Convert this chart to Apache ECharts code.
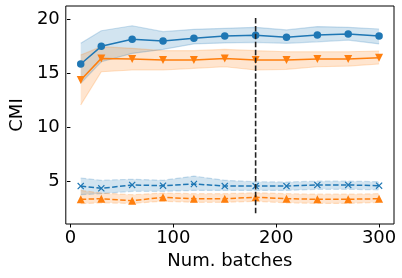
<!DOCTYPE html>
<html>
<head>
<meta charset="utf-8">
<script src="https://cdn.jsdelivr.net/npm/echarts@6/dist/echarts.min.js"></script>
<style>
html,body{margin:0;padding:0;background:#fff;}
#c{width:402px;height:278px;}
</style>
</head>
<body>
<div id="c"></div>
<script>
// ---- data ----
var batches = [10, 30, 60, 90, 120, 150, 180, 210, 240, 270, 300];

var circleMean  = [15.85, 17.48, 18.13, 17.97, 18.22, 18.43, 18.50, 18.31, 18.52, 18.62, 18.43];
var circleUpper = [17.76, 18.92, 19.38, 18.83, 19.05, 19.14, 19.23, 18.99, 19.30, 19.23, 19.08];
var circleLower = [14.07, 16.06, 16.83, 17.20, 17.70, 17.80, 17.85, 17.76, 17.90, 18.06, 17.70];

var downMean  = [14.37, 16.37, 16.31, 16.22, 16.22, 16.37, 16.22, 16.22, 16.31, 16.31, 16.43];
var downUpper = [16.68, 17.45, 17.30, 17.08, 17.08, 17.20, 17.08, 16.98, 16.98, 16.98, 17.05];
var downLower = [12.07, 15.14, 15.30, 15.30, 15.45, 15.60, 15.30, 15.36, 15.60, 15.66, 15.85];

var crossMean  = [4.60, 4.39, 4.70, 4.63, 4.79, 4.60, 4.60, 4.60, 4.70, 4.70, 4.63];
var crossUpper = [5.34, 5.13, 5.22, 5.13, 5.52, 5.13, 5.00, 4.97, 5.05, 5.05, 5.00];
var crossLower = [3.80, 3.90, 4.11, 4.11, 4.20, 4.20, 4.20, 4.20, 4.30, 4.30, 4.25];

var upMean  = [3.38, 3.43, 3.25, 3.56, 3.43, 3.43, 3.56, 3.43, 3.38, 3.38, 3.43];
var upUpper = [4.20, 3.95, 3.80, 3.95, 3.90, 3.90, 3.98, 3.90, 3.85, 3.85, 3.90];
var upLower = [2.97, 3.05, 3.00, 3.20, 3.10, 3.10, 3.19, 3.05, 3.00, 3.00, 3.10];

var vlineX = [180, 180];
var vlineY = [2.1, 20.2];

var xTicks = [0, 100, 200, 300];
var yTicks = [5, 10, 15, 20];

// ---- helpers ----
var BLUE = '#1f77b4', ORANGE = '#ff7f0e';
var FONT = 'DejaVu Sans';
var FS = 18;
var DASH = [5.5, 2.4];

function pairs(xs, ys) { return xs.map(function (x, i) { return [x, ys[i]]; }); }

function band(lower, upper, color, dashed) {
  var out = [];
  out.push({
    type: 'custom',
    silent: true,
    clip: true,
    z: 1,
    data: [0],
    renderItem: function (params, api) {
      var pts = [];
      for (var i = 0; i < batches.length; i++) pts.push(api.coord([batches[i], upper[i]]));
      for (var j = batches.length - 1; j >= 0; j--) pts.push(api.coord([batches[j], lower[j]]));
      return { type: 'polygon', shape: { points: pts }, style: { fill: color, opacity: 0.2 } };
    }
  });
  [lower, upper].forEach(function (arr) {
    out.push({
      type: 'line', data: pairs(batches, arr), symbol: 'none', silent: true, z: 1,
      lineStyle: { color: color, width: 1.2, opacity: 0.22, type: dashed ? DASH : 'solid' }
    });
  });
  return out;
}

function mainLine(ys, color, symbol, rotate, size, dashed) {
  return {
    type: 'line', data: pairs(batches, ys), symbol: symbol, symbolSize: size, symbolRotate: rotate,
    showAllSymbol: true, z: 3,
    lineStyle: { color: color, width: 1.5, type: dashed ? DASH : 'solid' },
    itemStyle: { color: color, borderWidth: 0 }
  };
}

var CROSS = 'path://M0,1.2L1.2,0L5,3.8L8.8,0L10,1.2L6.2,5L10,8.8L8.8,10L5,6.2L1.2,10L0,8.8L3.8,5Z';

var series = []
  .concat(band(circleLower, circleUpper, BLUE, false))
  .concat(band(downLower, downUpper, ORANGE, false))
  .concat(band(crossLower, crossUpper, BLUE, true))
  .concat(band(upLower, upUpper, ORANGE, true));
series.push(mainLine(circleMean, BLUE, 'circle', 0, 7.5, false));
series.push(mainLine(downMean, ORANGE, 'triangle', 180, 8, false));
series.push(mainLine(crossMean, BLUE, CROSS, 0, 7, true));
series.push(mainLine(upMean, ORANGE, 'triangle', 0, 8, true));
series.push({
  type: 'line', data: pairs(vlineX, vlineY), symbol: 'none', z: 4, silent: true,
  lineStyle: { color: '#222', width: 1.6, type: DASH }
});

var chart = echarts.init(document.getElementById('c'), null, { renderer: 'canvas' });
chart.setOption({
  animation: false,
  grid: { left: 59, right: 8, top: 6, bottom: 54, show: true, borderColor: '#000', borderWidth: 1, backgroundColor: 'transparent', containLabel: false },
  xAxis: {
    type: 'value', min: -4.5, max: 314.5,
    name: 'Num. batches', nameLocation: 'middle', nameGap: 27,
    nameTextStyle: { fontFamily: FONT, fontSize: FS, color: '#000' },
    axisLine: { show: false },
    axisTick: { show: true, inside: false, length: 3.5, lineStyle: { color: '#000', width: 1 }, customValues: xTicks },
    axisLabel: { fontFamily: FONT, fontSize: FS, color: '#000', margin: 5, customValues: xTicks },
    splitLine: { show: false }
  },
  yAxis: {
    type: 'value', min: 1.1, max: 21.2,
    name: 'CMI', nameLocation: 'middle', nameGap: 39, nameRotate: 90,
    nameTextStyle: { fontFamily: FONT, fontSize: FS, color: '#000' },
    axisLine: { show: false },
    axisTick: { show: true, inside: false, length: 3.5, lineStyle: { color: '#000', width: 1 }, customValues: yTicks },
    axisLabel: { fontFamily: FONT, fontSize: FS, color: '#000', margin: 6, customValues: yTicks },
    splitLine: { show: false }
  },
  series: series
});
</script>
</body>
</html>
